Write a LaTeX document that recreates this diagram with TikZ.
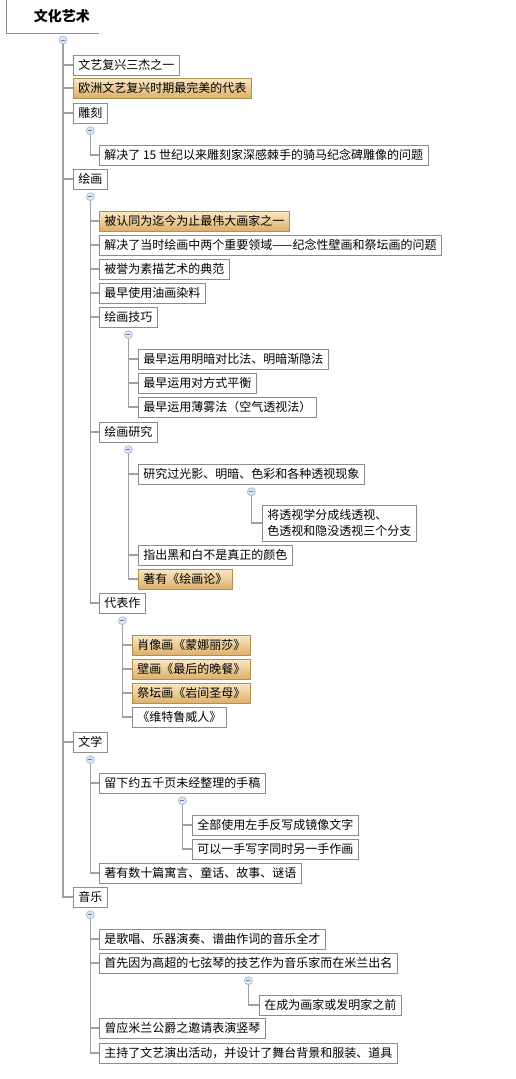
\documentclass[tikz,border=0pt]{standalone}
\usepackage{fontspec}
\setmainfont{Noto Sans CJK SC}
\usetikzlibrary{positioning}

\definecolor{linegray}{HTML}{A0A0A0}
\definecolor{boxgray}{HTML}{8C8C8C}
\definecolor{goldtop}{HTML}{FAE8C4}
\definecolor{goldbot}{HTML}{DDB06A}
\definecolor{goldline}{HTML}{B08F56}
\definecolor{foldfill}{HTML}{D8E5F6}
\definecolor{foldline}{HTML}{9DB5D8}

\tikzset{
    topic/.style={draw=boxgray, line width=0.8pt, fill=white, anchor=west,
            minimum height=20pt, inner xsep=5pt, inner ysep=0pt,
            font=\fontsize{12}{16}\selectfont},
    hot/.style={topic, draw=goldline, top color=goldtop, bottom color=goldbot},
    fold/.style={circle, draw=foldline, fill=foldfill, line width=0.6pt,
            minimum size=8pt, inner sep=0pt,
            path picture={\draw[foldline!70!black, line width=0.7pt]
                ([xshift=-2pt]path picture bounding box.center) --
                ([xshift=2pt]path picture bounding box.center);}},
    link/.style={draw=linegray, line width=1.2pt}
}

\begin{document}
\begin{tikzpicture}[x=1pt, y=-1pt]
        \useasboundingbox[fill=white] (0,0) rectangle (515,1079);

        % Root
        \node[font=\bfseries\fontsize{14}{16}\selectfont] (root) at (62,16) {文化艺术};
        \draw[boxgray, line width=0.8pt] (6,-2) -- (6,33) -- (99,33);
        \node[fold] (c0) at (63,40) {};

        % Level 1
        \node[topic] (a1) at (73,65) {文艺复兴三杰之一};
        \node[hot] (a2) at (73,88) {欧洲文艺复兴时期最完美的代表};
        \node[topic] (a3) at (73,113) {雕刻};
        \node[topic] (a4) at (73,179) {绘画};
        \node[topic] (a5) at (73,742) {文学};
        \node[topic] (a6) at (73,897) {音乐};
        \foreach \n in {a1,a2,a3,a4,a5,a6} {
                \draw[link] (c0) |- (\n.west);
            }

        % Sculpture
        \node[fold, below=3pt of a3] (c1) {};
        \node[topic] (b1) at (99,155) {解决了 15 世纪以来雕刻家深感棘手的骑马纪念碑雕像的问题};
        \draw[link] (c1) |- (b1.west);

        % Painting
        \node[fold, below=3pt of a4] (c2) {};
        \node[hot] (d1) at (99,221) {被认同为迄今为止最伟大画家之一};
        \node[topic] (d2) at (99,245) {解决了当时绘画中两个重要领域——纪念性壁画和祭坛画的问题};
        \node[topic] (d3) at (99,269) {被誉为素描艺术的典范};
        \node[topic] (d4) at (99,293) {最早使用油画染料};
        \node[topic] (d5) at (99,317) {绘画技巧};
        \node[topic] (d6) at (99,432) {绘画研究};
        \node[topic] (d7) at (99,603) {代表作};
        \foreach \n in {d1,d2,d3,d4,d5,d6,d7} {
                \draw[link] (c2) |- (\n.west);
            }

        % Painting technique
        \node[fold, below=3pt of d5] (c3) {};
        \node[topic] (e1) at (138,359) {最早运用明暗对比法、明暗渐隐法};
        \node[topic] (e2) at (138,383) {最早运用对方式平衡};
        \node[topic] (e3) at (138,407) {最早运用薄雾法（空气透视法）};
        \foreach \n in {e1,e2,e3} {
                \draw[link] (c3) |- (\n.west);
            }

        % Painting research
        \node[fold, below=3pt of d6] (c4) {};
        \node[topic] (f1) at (138,474) {研究过光影、明暗、色彩和各种透视现象};
        \node[topic] (f2) at (138,555) {指出黑和白不是真正的颜色};
        \node[hot] (f3) at (138,579) {著有《绘画论》};
        \foreach \n in {f1,f2,f3} {
                \draw[link] (c4) |- (\n.west);
            }
        \node[fold, below=3pt of f1] (c5) {};
        \node[topic, align=left, minimum height=36pt] (g1) at (262,523)
            {将透视学分成线透视、\\色透视和隐没透视三个分支};
        \draw[link] (c5) |- (g1.west);

        % Works
        \node[fold, below=3pt of d7] (c6) {};
        \node[hot] (h1) at (132,645) {肖像画《蒙娜丽莎》};
        \node[hot] (h2) at (132,669) {壁画《最后的晚餐》};
        \node[hot] (h3) at (132,693) {祭坛画《岩间圣母》};
        \node[topic] (h4) at (132,717) {《维特鲁威人》};
        \foreach \n in {h1,h2,h3,h4} {
                \draw[link] (c6) |- (\n.west);
            }

        % Literature
        \node[fold, below=3pt of a5] (c7) {};
        \node[topic] (i1) at (99,783) {留下约五千页未经整理的手稿};
        \node[topic] (i2) at (99,873) {著有数十篇寓言、童话、故事、谜语};
        \foreach \n in {i1,i2} {
                \draw[link] (c7) |- (\n.west);
            }
        \node[fold, below=3pt of i1] (c8) {};
        \node[topic] (j1) at (192,825) {全部使用左手反写成镜像文字};
        \node[topic] (j2) at (192,849) {可以一手写字同时另一手作画};
        \foreach \n in {j1,j2} {
                \draw[link] (c8) |- (\n.west);
            }

        % Music
        \node[fold, below=3pt of a6] (c9) {};
        \node[topic] (k1) at (99,939) {是歌唱、乐器演奏、谱曲作词的音乐全才};
        \node[topic] (k2) at (99,963) {首先因为高超的七弦琴的技艺作为音乐家而在米兰出名};
        \node[topic] (k3) at (99,1028) {曾应米兰公爵之邀请表演竖琴};
        \node[topic] (k4) at (99,1053) {主持了文艺演出活动，并设计了舞台背景和服装、道具};
        \foreach \n in {k1,k2,k3,k4} {
                \draw[link] (c9) |- (\n.west);
            }
        \node[fold, below=3pt of k2] (c10) {};
        \node[topic] (l1) at (259,1005) {在成为画家或发明家之前};
        \draw[link] (c10) |- (l1.west);
    \end{tikzpicture}
\end{document}
